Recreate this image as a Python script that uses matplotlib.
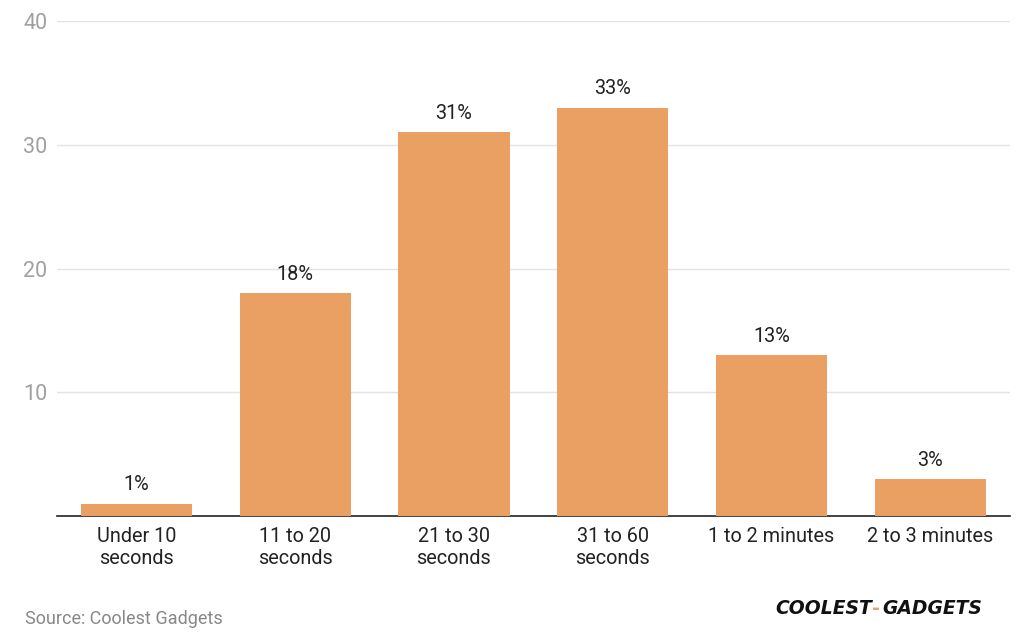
import matplotlib
matplotlib.use("Agg")
import matplotlib.pyplot as plt

categories = ["Under 10\nseconds", "11 to 20\nseconds", "21 to 30\nseconds",
              "31 to 60\nseconds", "1 to 2 minutes", "2 to 3 minutes"]
values = [1, 18, 31, 33, 13, 3]
yticks = [10, 20, 30, 40]

plt.rcParams['font.family'] = ['Roboto', 'DejaVu Sans']

fig = plt.figure(figsize=(10.24, 6.41), dpi=100)
ax = fig.add_axes([0.0557, 0.195, 0.9303, 0.772])

x = list(range(len(categories)))
bars = ax.bar(x, values, width=0.7, color="#EBA063", zorder=3)
for xi, v in zip(x, values):
    ax.text(xi, v + 0.75, f"{v}%", ha="center", va="bottom", fontsize=14.3, color="#222222")

ax.set_xlim(-0.5, 5.5)
ax.set_ylim(0, 40)
ax.set_yticks(yticks)
ax.set_yticklabels([str(t) for t in yticks])
ax.set_xticks(x)
ax.set_xticklabels(categories, fontsize=14.3, color="#222222", linespacing=1.2)
ax.grid(axis="y", color="#e3e3e3", linewidth=1, zorder=0)
for s in ["top", "right", "left"]:
    ax.spines[s].set_visible(False)
ax.spines["bottom"].set_color("#222222")
ax.spines["bottom"].set_linewidth(1.2)
ax.tick_params(axis="y", length=0, labelsize=15.5, colors="#a0a0a0", pad=7)
ax.tick_params(axis="x", length=0, pad=8)

fig.text(0.024, 0.035, "Source: Coolest Gadgets", fontsize=13, color="#888888", ha="left", va="center")
fig.text(0.757, 0.05, "COOLEST", fontsize=13.5, fontweight="bold", style="italic",
         color="#111111", ha="left", va="center", family="DejaVu Sans")
fig.text(0.852, 0.05, "-", fontsize=13.5, fontweight="bold", color="#EBA063", ha="left", va="center",
         family="DejaVu Sans")
fig.text(0.862, 0.05, "GADGETS", fontsize=13.5, fontweight="bold", style="italic",
         color="#111111", ha="left", va="center", family="DejaVu Sans")

fig.savefig("out.png", dpi=100, facecolor="white")
